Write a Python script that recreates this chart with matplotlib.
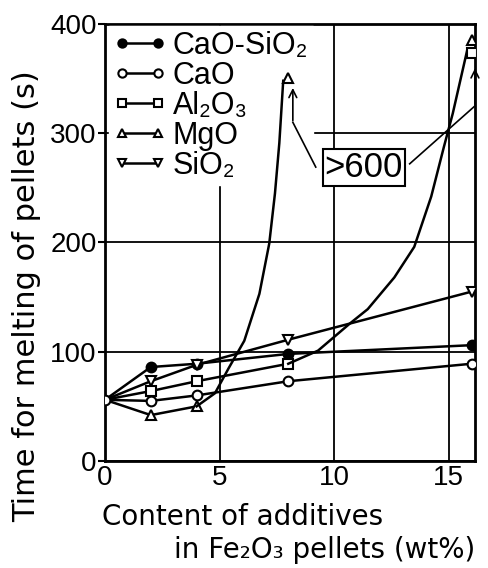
import matplotlib
matplotlib.use('Agg')
import matplotlib.pyplot as plt

plt.rcParams['font.family'] = ['Liberation Sans', 'DejaVu Sans']

# additive content (wt%) and melting time (s)
x_pts = [0, 2, 4, 8, 16]
cao_sio2 = [56, 86, 89, 98, 106]
cao = [56, 55, 60, 73, 89]
al2o3 = [56, 64, 73, 89, 373]   # 16 wt% point is >600 s
mgo = [56, 42, 50, 351, 385]    # 8 and 16 wt% points are >600 s
sio2 = [56, 73, 88, 111, 155]

# hand traced rise of the curves that run off the scale
mgo_rise_x = [4, 4.8, 5.4, 6.08, 6.74, 7.17, 7.42, 7.61, 7.78]
mgo_rise_y = [50, 62, 85, 110, 153, 199, 245, 291, 348]
al_rise_x = [8, 9.3, 10.7, 11.47, 12.63, 13.5, 14.24, 14.8, 15.18, 15.55, 15.8]
al_rise_y = [89, 101, 126, 139, 168, 196, 242, 288, 318, 352, 375]

fig = plt.figure(figsize=(4.89, 5.68), dpi=100)
ax = fig.add_axes([0.2147, 0.1884, 0.7566, 0.7694])

lw = 1.8
ms = 7
kw = dict(color='black', lw=lw, ms=ms, mec='black', mew=1.5, zorder=3)

ax.plot(x_pts, cao_sio2, marker='o', mfc='black', markevery=slice(1, None),
        label='CaO-SiO₂', **kw)
ax.plot(x_pts[:4], al2o3[:4], marker='s', mfc='white', markevery=slice(1, None),
        label='Al₂O₃', **kw)
ax.plot(x_pts[:3], mgo[:3], marker='^', mfc='white', markevery=slice(1, None),
        label='MgO', **kw)
ax.plot(x_pts, sio2, marker='v', mfc='white', markevery=slice(1, None),
        label='SiO₂', **kw)
ax.plot(x_pts, cao, marker='o', mfc='white', label='CaO', **kw)

# off-scale points and the curves leading up to them
ax.plot(mgo_rise_x, mgo_rise_y, color='black', lw=lw, zorder=3)
ax.plot(al_rise_x, al_rise_y, color='black', lw=lw, zorder=3)
ax.plot(x_pts[3:], mgo[3:], ls='none', marker='^', ms=ms, mfc='white', mec='black', mew=1.5, zorder=4)
ax.plot(x_pts[4:], al2o3[4:], ls='none', marker='s', ms=ms, mfc='white', mec='black', mew=1.5, zorder=4)

ax.text(11.3, 269, '>600', fontsize=25, ha='center', va='center', zorder=5,
        bbox=dict(boxstyle='square,pad=0.06', fc='white', ec='black', lw=1.5))
ax.plot([9.2, 8.2], [269, 310], color='black', lw=1.2, zorder=4)
ax.annotate('', xy=(8.2, 344), xytext=(8.2, 309),
            arrowprops=dict(arrowstyle='->', lw=1.2, color='black', mutation_scale=14), zorder=4)
ax.plot([13.3, 16.15], [272, 325], color='black', lw=1.2, zorder=4)
ax.annotate('', xy=(16.15, 362), xytext=(16.15, 324),
            arrowprops=dict(arrowstyle='->', lw=1.2, color='black', mutation_scale=14), zorder=4)

ax.set_xlim(0, 16.15)
ax.set_ylim(0, 400)
ax.set_xticks([0, 5, 10, 15])
ax.set_yticks([0, 100, 200, 300, 400])
ax.grid(True, color='black', lw=1.3)
ax.set_axisbelow(True)
for sp in ax.spines.values():
    sp.set_linewidth(2)
ax.tick_params(axis='both', labelsize=20, width=1.5)
ax.tick_params(axis='y', length=5, pad=1)
ax.tick_params(axis='x', length=0, pad=3)

# legend order as printed; sits above the grid but under the curves
h, l = ax.get_legend_handles_labels()
order = ['CaO-SiO₂', 'CaO', 'Al₂O₃', 'MgO', 'SiO₂']
hl = dict(zip(l, h))
leg = ax.legend([hl[k] for k in order], order, loc='upper left', bbox_to_anchor=(0.01, 0.995),
                fontsize=22, numpoints=2, markerscale=0.85, handlelength=1.75,
                handletextpad=0.2, labelspacing=0.0, borderpad=0.15, borderaxespad=0,
                frameon=True, fancybox=False, facecolor='white', edgecolor='white', framealpha=1)
leg.set_zorder(2.5)

fig.text(27 / 489, 1 - 296 / 568, 'Time for melting of pellets (s)', rotation=90,
         ha='center', va='center', fontsize=22, family='DejaVu Sans')
fig.text(102 / 489, 1 - 525 / 568, 'Content of additives', ha='left', va='baseline',
         fontsize=20, family='DejaVu Sans')
fig.text(475 / 489, 1 - 558 / 568, 'in Fe₂O₃ pellets (wt%)', ha='right', va='baseline',
         fontsize=20, family='DejaVu Sans')

fig.savefig('out.png', dpi=100)
